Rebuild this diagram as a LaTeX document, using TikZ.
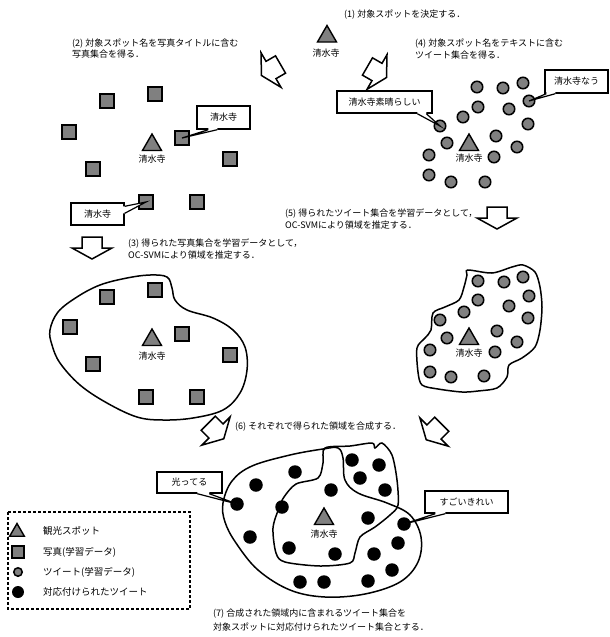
\documentclass[tikz,border=0pt]{standalone}
\usepackage{fontspec}
\newfontfamily\jp{Noto Sans CJK JP}
\usetikzlibrary{shapes.geometric,calc}
\definecolor{mygray}{RGB}{128,128,128}
\begin{document}
\begin{tikzpicture}[x=1pt,y=-1pt,
  sq/.style={rectangle, draw, fill=mygray, line width=1.6pt, minimum size=14.4pt, inner sep=0pt},
  twc/.style={circle, draw, fill=mygray, line width=1.5pt, minimum size=11.5pt, inner sep=0pt},
  blk/.style={circle, fill=black, minimum size=13.5pt, inner sep=0pt},
  spot/.style={regular polygon, regular polygon sides=3, draw, fill=mygray, line width=1.4pt, minimum size=22pt, inner sep=0pt},
  lbl/.style={font=\jp\fontsize{9}{11}\selectfont, inner sep=0pt},
  txt/.style={font=\jp\fontsize{9}{11.5}\selectfont, align=left, anchor=west, inner sep=0pt},
  cbox/.style={draw, fill=white, line width=1.4pt, font=\jp\fontsize{9}{11}\selectfont, inner sep=0pt},
  region/.style={line width=1.5pt},
  wedge/.style={line width=1.2pt},
  harrow/.pic={\draw[line width=1.5pt, line join=miter] (-10,-11) -- (10,-11) -- (10,0) -- (20,0) -- (0,11) -- (-20,0) -- (-10,0) -- cycle;}
]
\useasboundingbox (0,0) rectangle (610,637);

% ---------- texts ----------
\node[txt] (t1) at (344,15) {(1) 対象スポットを決定する．};
\node[txt] (t2) at (72,48.7) {(2) 対象スポット名を写真タイトルに含む\\写真集合を得る．};
\node[txt] (t4) at (415,48.8) {(4) 対象スポット名をテキストに含む\\ツイート集合を得る．};
\node[txt] (t3) at (128,249) {(3) 得られた写真集合を学習データとして，\\OC-SVMにより領域を推定する．};
\node[txt] (t5) at (285,219) {(5) 得られたツイート集合を学習データとして，\\OC-SVMにより領域を推定する．};
\node[txt] (t6) at (235,427) {(6) それぞれで得られた領域を合成する．};
\node[txt, font=\jp\fontsize{9}{13.5}\selectfont] (t7) at (213,620) {(7) 合成された領域内に含まれるツイート集合を\\対象スポットに対応付けられたツイート集合とする．};

% ---------- hollow arrows ----------
\pic[rotate=-60] at (271,70) {harrow};
\pic[rotate=60] at (377,72) {harrow};
\pic at (92,248) {harrow};
\pic at (497,218) {harrow};
\pic[rotate=45] at (216,431) {harrow};
\pic[rotate=-45] at (434,432) {harrow};

% ---------- (1) spot ----------
\node[spot] (sp0) at (327,36.5) {};
\node[lbl] (sl0) at (326,53) {清水寺};

% ---------- (2) photos ----------
\node[spot] (sp1) at (152,145) {};
\node[lbl] (sl1) at (152,159) {清水寺};
\foreach \n/\x/\y in {1/107/101,2/155/94,3/69/132,4/182/138,5/230/159,6/93/169,7/146/202,8/197/202}
  \node[sq] (a\n) at (\x,\y) {};

% ---------- (4) tweets ----------
\node[spot] (sp2) at (469,145) {};
\node[lbl] (sl2) at (469,158) {清水寺};
\foreach \n/\x/\y in {1/477/87,2/503/88,3/523/83,4/529/101,5/478/107,6/509/109,7/463/117,8/440/126,9/528/124,10/496/136,11/447/143,12/517/147,13/429/155,14/494/157,15/429/175,16/451/182,17/485/182}
  \node[twc] (b\n) at (\x,\y) {};

% ---------- (3) photo region ----------
\draw[region] plot[smooth cycle, tension=0.6] coordinates {(50,330) (58,312) (77,297) (100,285) (127,278) (150,275) (167,277) (172,288) (175,300) (187,310) (213,318) (233,330) (245,347) (247,370) (240,393) (223,410) (193,418) (163,420) (137,417) (107,403) (80,385) (60,363) (52,345)};
\node[spot] (sp3) at (152,340) {};
\node[lbl] (sl3) at (152,356) {清水寺};
\foreach \n/\x/\y in {1/107/297,2/155/290,3/70/327,4/182/334,5/230/355,6/93/364,7/146/397,8/197/397}
  \node[sq] (c\n) at (\x,\y) {};

% ---------- (5) tweet region ----------
\draw[region] plot[smooth cycle, tension=0.5] coordinates {(468,270) (492,273) (512,267) (523,265) (535,272) (540,287) (542,307) (540,330) (535,347) (522,358) (509,365) (507,377) (497,388) (478,391) (462,392) (438,389) (422,385) (418,372) (417,348) (425,338) (431,330) (433,313) (445,307) (459,300) (464,287) (467,275)};
\node[spot] (sp4) at (469,339) {};
\node[lbl] (sl4) at (469,353) {清水寺};
\foreach \n/\x/\y in {1/478/281,2/504/282,3/523/277,4/529/296,5/478/300,6/509/306,7/464/312,8/440/320,9/528/318,10/497/331,11/447/338,12/517/342,13/430/350,14/495/352,15/430/372,16/451/377,17/484/376}
  \node[twc] (d\n) at (\x,\y) {};

% ---------- (6)/(7) combined ----------
\draw[region] plot[smooth cycle, tension=0.6] coordinates {(223,503) (232,481) (252,466) (290,455) (323,449) (338,448) (343,458) (345,480) (358,493) (387,503) (410,515) (421,537) (418,562) (400,582) (365,594) (325,597) (290,590) (258,570) (236,543) (225,522)};
\draw[region] plot[smooth cycle, tension=0.5] coordinates {(325,448) (350,446) (372,443) (375,448) (382,443) (392,455) (397,480) (398,505) (390,515) (375,527) (360,537) (355,553) (350,563) (320,566) (285,562) (276,553) (273,528) (279,508) (284,497) (296,484) (318,478) (323,463)};
\node[spot] (sp5) at (324,519) {};
\node[lbl] (sl5) at (324,534) {清水寺};
\foreach \n/\x/\y in {1/295/472,2/352/460,3/379/465,4/360/478,5/256/485,6/331/490,7/385/490,8/237/504,9/282/507,10/368/518,11/404/524,12/250/537,13/398/543,14/289/548,15/335/554,16/374/554,17/392/570,18/300/582,19/324/582,20/368/581}
  \node[blk] (e\n) at (\x,\y) {};

% ---------- callouts ----------
\node[cbox, minimum width=53pt, minimum height=23pt] (k1) at (223.5,117.5) {清水寺};
\fill[white] ($(k1.south west)+(12,-1.5)$) -- ($(k1.south west)+(12,0)$) -- (a4.center) -- ($(k1.south west)+(21,0)$) -- ($(k1.south west)+(21,-1.5)$) -- cycle;
\draw[wedge] ($(k1.south west)+(12,0)$) -- (a4.center) -- ($(k1.south west)+(21,0)$);

\node[cbox, minimum width=53pt, minimum height=22pt] (k2) at (97.5,214) {清水寺};
\fill[white] ($(k2.north east)+(-1.5,4)$) -- ($(k2.north east)+(0,4)$) -- (a7.center) -- ($(k2.north east)+(0,11)$) -- ($(k2.north east)+(-1.5,11)$) -- cycle;
\draw[wedge] ($(k2.north east)+(0,4)$) -- (a7.center) -- ($(k2.north east)+(0,11)$);

\node[cbox, minimum width=95pt, minimum height=22pt] (k3) at (384.5,102) {清水寺素晴らしい};
\fill[white] ($(k3.south west)+(81,-1.5)$) -- ($(k3.south west)+(81,0)$) -- (b8.center) -- ($(k3.south west)+(90,0)$) -- ($(k3.south west)+(90,-1.5)$) -- cycle;
\draw[wedge] ($(k3.south west)+(81,0)$) -- (b8.center) -- ($(k3.south west)+(90,0)$);

\node[cbox, minimum width=63pt, minimum height=23pt] (k4) at (576.5,81.5) {清水寺なう};
\fill[white] ($(k4.south west)+(2,-1.5)$) -- ($(k4.south west)+(2,0)$) -- (b4.center) -- ($(k4.south west)+(11,0)$) -- ($(k4.south west)+(11,-1.5)$) -- cycle;
\draw[wedge] ($(k4.south west)+(2,0)$) -- (b4.center) -- ($(k4.south west)+(11,0)$);

\node[cbox, minimum width=65pt, minimum height=21pt] (k5) at (189.5,482.5) {光ってる};
\fill[white] ($(k5.south west)+(41,-1.5)$) -- ($(k5.south west)+(41,0)$) -- (e8.center) -- ($(k5.south west)+(53,0)$) -- ($(k5.south west)+(53,-1.5)$) -- cycle;
\draw[wedge] ($(k5.south west)+(41,0)$) -- (e8.center) -- ($(k5.south west)+(53,0)$);

\node[cbox, minimum width=83pt, minimum height=22pt] (k6) at (466.5,502) {すごいきれい};
\fill[white] ($(k6.south west)+(11,-1.5)$) -- ($(k6.south west)+(11,0)$) -- (e11.center) -- ($(k6.south west)+(21,0)$) -- ($(k6.south west)+(21,-1.5)$) -- cycle;
\draw[wedge] ($(k6.south west)+(11,0)$) -- (e11.center) -- ($(k6.south west)+(21,0)$);

% ---------- legend ----------
\draw[line width=1.3pt, dash pattern=on 3pt off 2pt] (8,512) rectangle (190,609);
\node[spot, minimum size=17pt] (g1) at (17,532) {};
\node[sq, minimum size=11.5pt] (g2) at (18,552) {};
\node[twc, minimum size=8.5pt] (g3) at (18,572) {};
\node[blk, minimum size=12pt] (g4) at (18,592) {};
\node[txt, font=\jp\fontsize{9.5}{11}\selectfont] (h1) at (43,531) {観光スポット};
\node[txt, font=\jp\fontsize{9.5}{11}\selectfont] (h2) at (43,552) {写真(学習データ)};
\node[txt, font=\jp\fontsize{9.5}{11}\selectfont] (h3) at (43,572) {ツイート(学習データ)};
\node[txt, font=\jp\fontsize{9.5}{11}\selectfont] (h4) at (43,592) {対応付けられたツイート};
\end{tikzpicture}
\end{document}
